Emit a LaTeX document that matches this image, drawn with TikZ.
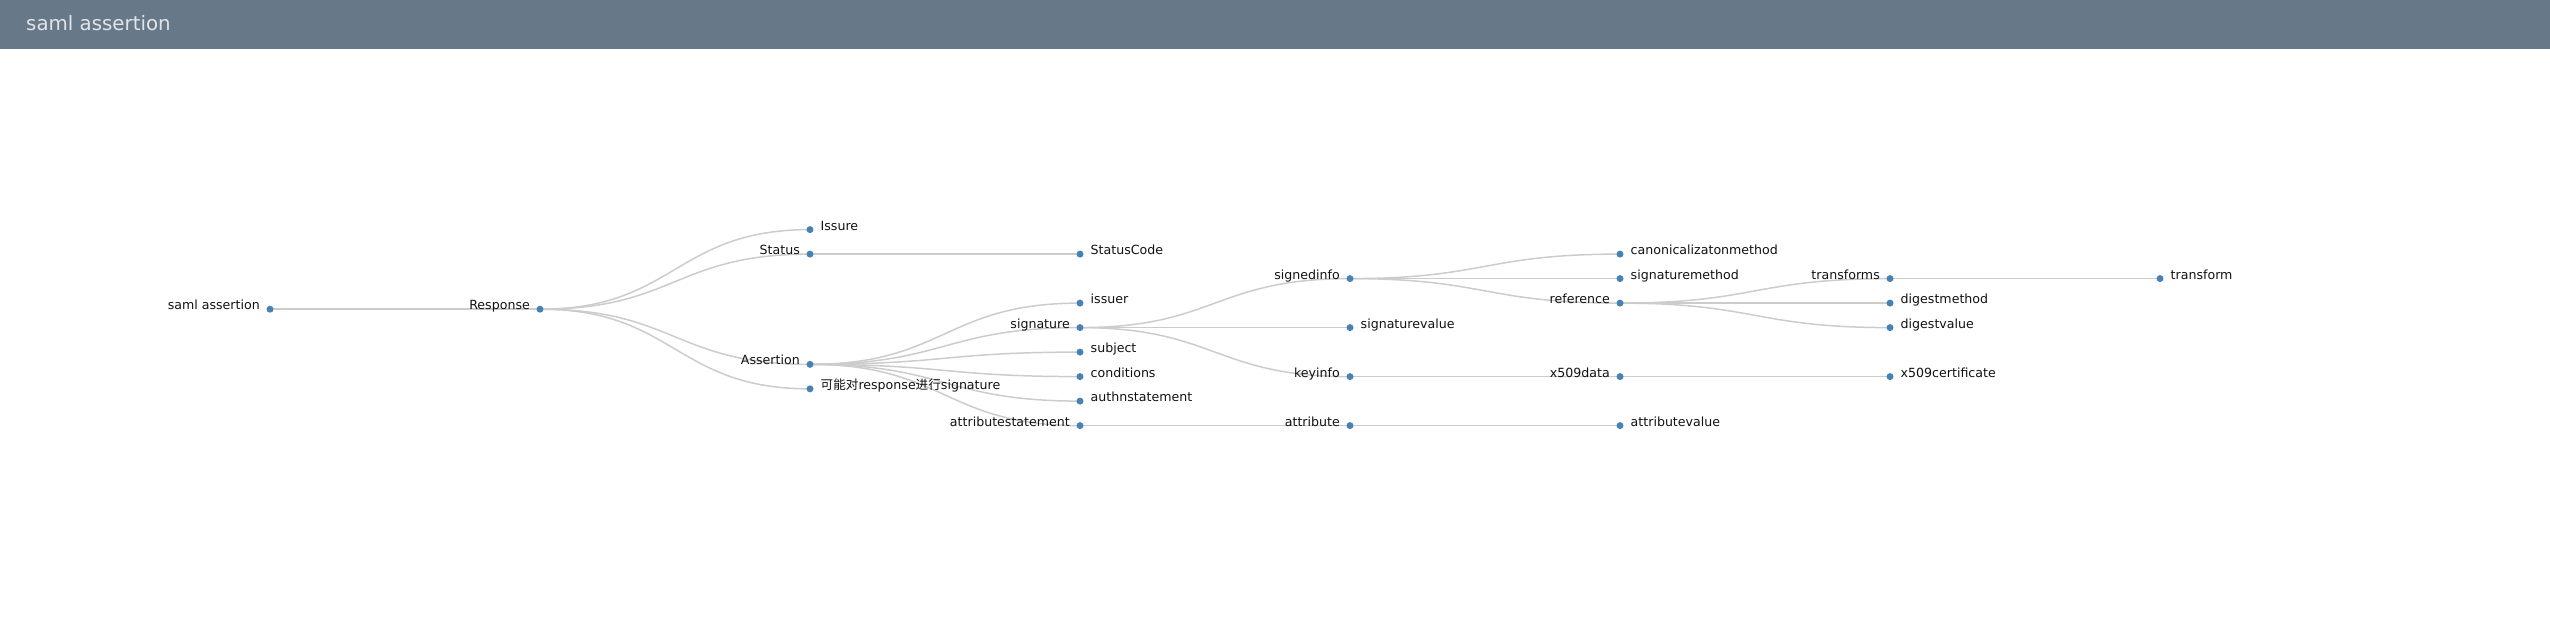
\documentclass[tikz,border=0pt]{standalone}
\usepackage{fontspec}
\setmainfont{DejaVu Sans}
\newfontfamily\cjk{Noto Sans CJK SC}
\usetikzlibrary{backgrounds}
\definecolor{hdr}{RGB}{103,120,136}
\definecolor{hdrtext}{RGB}{225,228,232}
\definecolor{dotblue}{RGB}{70,130,180}
\definecolor{linkgray}{RGB}{204,204,204}
\definecolor{lbltext}{RGB}{17,17,17}
\tikzset{
  dotnode/.style={circle, fill=dotblue, draw=none, inner sep=0pt, minimum size=7pt},
  lbl/.style={inner sep=0pt, text=lbltext, font=\fontsize{12.6}{14}\selectfont},
  link/.style={draw=linkgray, line width=1.5pt},
  titlestyle/.style={inner sep=0pt, text=hdrtext, font=\fontsize{19.8}{24}\selectfont}
}
% inner node: label on the left
\newcommand\innernode[4]{%
  \node[dotnode] (#1) at (#2,#3) {};
  \node[lbl, anchor=base east] (#1-t) at (#2-10,#3+0.5) {#4};
}
% leaf node: label on the right
\newcommand\leafnode[4]{%
  \node[dotnode] (#1) at (#2,#3) {};
  \node[lbl, anchor=base west] (#1-t) at (#2+10.5,#3+0.5) {#4};
}
\newcommand\lnk[2]{%
  \draw[link] (#1.center) .. controls +(135,0) and +(-135,0) .. (#2.center);
}
\begin{document}
\begin{tikzpicture}[x=1pt,y=-1pt]
\useasboundingbox (0,0) rectangle (2550,630);
\fill[hdr] (0,0) rectangle (2550,49);
\node[titlestyle, anchor=base west] (title) at (26,30) {saml assertion};

% level 0
\innernode{root}{270}{309.2}{saml assertion}
% level 1
\innernode{resp}{540}{309.2}{Response}
% level 2
\leafnode{issure}{810}{229.6}{Issure}
\innernode{status}{810}{254.1}{Status}
\innernode{assert}{810}{364.35}{Assertion}
\leafnode{maysig}{810}{388.85}{{\cjk 可能对}response{\cjk 进行}signature}
% level 3
\leafnode{statuscode}{1080}{254.1}{StatusCode}
\leafnode{issuer}{1080}{303.1}{issuer}
\innernode{sig}{1080}{327.6}{signature}
\leafnode{subject}{1080}{352.1}{subject}
\leafnode{cond}{1080}{376.6}{conditions}
\leafnode{authn}{1080}{401.1}{authnstatement}
\innernode{attrst}{1080}{425.6}{attributestatement}
% level 4
\innernode{signedinfo}{1350}{278.6}{signedinfo}
\leafnode{sigvalue}{1350}{327.6}{signaturevalue}
\innernode{keyinfo}{1350}{376.6}{keyinfo}
\innernode{attr}{1350}{425.6}{attribute}
% level 5
\leafnode{canon}{1620}{254.1}{canonicalizatonmethod}
\leafnode{sigmethod}{1620}{278.6}{signaturemethod}
\innernode{ref}{1620}{303.1}{reference}
\innernode{x509data}{1620}{376.6}{x509data}
\leafnode{attrval}{1620}{425.6}{attributevalue}
% level 6
\innernode{transforms}{1890}{278.6}{transforms}
\leafnode{digmethod}{1890}{303.1}{digestmethod}
\leafnode{digvalue}{1890}{327.6}{digestvalue}
\leafnode{x509cert}{1890}{376.6}{x509certificate}
% level 7
\leafnode{transform}{2160}{278.6}{transform}

\begin{pgfonlayer}{background}
\lnk{root}{resp}
\lnk{resp}{issure}
\lnk{resp}{status}
\lnk{resp}{assert}
\lnk{resp}{maysig}
\lnk{status}{statuscode}
\lnk{assert}{issuer}
\lnk{assert}{sig}
\lnk{assert}{subject}
\lnk{assert}{cond}
\lnk{assert}{authn}
\lnk{assert}{attrst}
\lnk{sig}{signedinfo}
\lnk{sig}{sigvalue}
\lnk{sig}{keyinfo}
\lnk{attrst}{attr}
\lnk{signedinfo}{canon}
\lnk{signedinfo}{sigmethod}
\lnk{signedinfo}{ref}
\lnk{keyinfo}{x509data}
\lnk{attr}{attrval}
\lnk{ref}{transforms}
\lnk{ref}{digmethod}
\lnk{ref}{digvalue}
\lnk{x509data}{x509cert}
\lnk{transforms}{transform}
\end{pgfonlayer}
\end{tikzpicture}
\end{document}
